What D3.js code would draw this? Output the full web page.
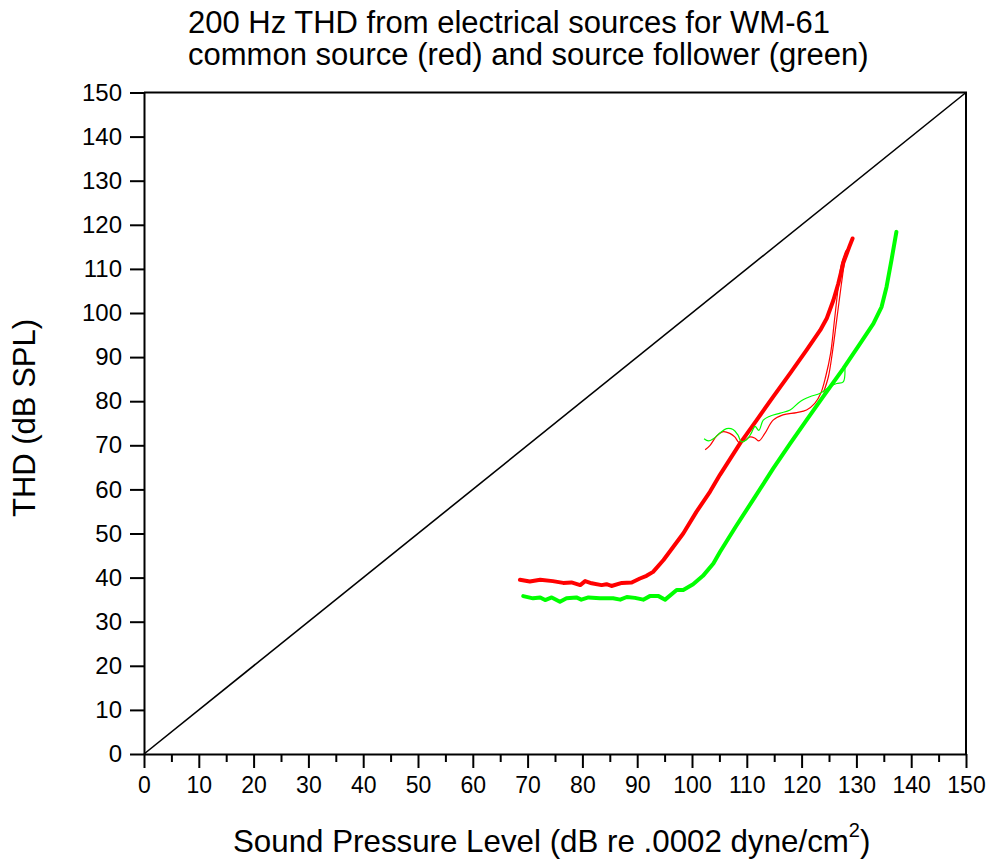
<!DOCTYPE html>
<html>
<head>
<meta charset="utf-8">
<script src="https://cdn.jsdelivr.net/npm/d3@7"></script>
<style>
  body { margin: 0; background: #fff; }
  svg text { font-family: "Liberation Sans", Arial, sans-serif; fill: #000; }
</style>
</head>
<body>
<div id="chart"></div>
<script>
// common source (red), thick
const redThickX = [68.6, 70.4, 72.3, 74.6, 76.5, 78.0, 79.6, 80.5, 81.7, 83.5, 84.4, 85.3, 87.2, 89.0, 90.5, 91.7, 92.9, 94.8, 96.6, 98.4, 100.8, 103.3, 105.1, 108.8, 111.8, 114.8, 117.9, 120.9, 123.4, 124.6, 125.8, 126.7, 127.6, 128.7, 129.3];
const redThickY = [39.5, 39.1, 39.5, 39.2, 38.8, 38.9, 38.3, 39.2, 38.7, 38.3, 38.5, 38.1, 38.8, 38.9, 39.8, 40.4, 41.3, 44.0, 47.0, 50.0, 54.9, 59.5, 63.3, 70.5, 75.7, 81.0, 86.3, 91.6, 96.1, 98.8, 102.9, 106.7, 111.3, 115.0, 116.9];

// source follower (green), thick
const greenThickX = [69.2, 71.0, 72.3, 73.2, 74.4, 75.9, 77.1, 78.9, 79.8, 81.1, 83.2, 85.6, 86.9, 88.1, 89.6, 91.1, 92.3, 93.9, 95.1, 97.2, 98.4, 100.2, 102.0, 103.9, 105.1, 108.0, 111.5, 114.8, 117.9, 120.9, 123.9, 127.6, 130.7, 133.1, 134.6, 135.5, 136.4, 137.3];
const greenThickY = [35.8, 35.3, 35.5, 34.9, 35.5, 34.5, 35.3, 35.5, 35.0, 35.5, 35.3, 35.3, 35.0, 35.6, 35.4, 35.0, 35.8, 35.8, 35.0, 37.2, 37.2, 38.5, 40.4, 43.2, 45.8, 51.6, 58.3, 64.7, 70.4, 75.7, 81.0, 87.4, 93.1, 97.6, 101.4, 105.9, 112.0, 118.4];

// common source (red), thin
const redThinX = [102.4, 103.3, 104.5, 105.7, 106.9, 107.8, 108.6, 109.3, 110.6, 111.5, 112.2, 113.3, 114.8, 116.6, 119.1, 120.9, 122.4, 123.5, 124.4, 125.3, 126.0, 126.7, 127.3, 128.2, 127.8, 127.2, 126.4, 125.6, 124.9, 124.0];
const redThinY = [69.0, 70.0, 72.1, 73.1, 72.7, 71.9, 70.6, 70.8, 71.9, 71.6, 71.0, 72.7, 75.7, 76.9, 77.4, 78.0, 79.5, 81.8, 85.6, 90.9, 98.4, 106.0, 111.3, 114.3, 111.3, 106.0, 98.4, 90.9, 85.6, 82.0];

// source follower (green), thin
const greenThinX = [102.2, 103.0, 103.9, 105.1, 106.3, 107.5, 108.4, 109.0, 109.9, 110.8, 111.5, 112.2, 113.0, 114.2, 116.1, 117.9, 119.7, 121.5, 123.4, 125.2, 126.4, 127.6, 127.9];
const greenThinY = [71.5, 71.0, 71.5, 72.8, 73.8, 73.6, 72.3, 70.8, 71.2, 72.7, 74.3, 73.4, 75.7, 76.6, 77.3, 78.0, 79.9, 81.0, 81.8, 83.3, 84.0, 84.4, 87.6];

// reference diagonal
const diagX = [0, 150];
const diagY = [0, 150];

const xTicks = [0, 10, 20, 30, 40, 50, 60, 70, 80, 90, 100, 110, 120, 130, 140, 150];
const xMinorTicks = [5, 15, 25, 35, 45, 55, 65, 75, 85, 95, 105, 115, 125, 135, 145];
const yTicks = [0, 10, 20, 30, 40, 50, 60, 70, 80, 90, 100, 110, 120, 130, 140, 150];

const titleLines = ["200 Hz THD from electrical sources for WM-61", "common source (red) and source follower (green)"];

const zip = (xs, ys) => xs.map((x, i) => ({ x: x, y: ys[i] }));

const W = 990, H = 860;
const svg = d3.select('#chart')
    .append('svg')
    .attr('width', W)
    .attr('height', H);

const xScale = d3.scaleLinear().domain([0, 150]).range([144, 966]);
const yScale = d3.scaleLinear().domain([0, 150]).range([754, 92.5]);

// title
svg.append('g').selectAll('text')
    .data(titleLines)
    .enter()
    .append('text')
    .attr('x', 188)
    .attr('y', (d, i) => 33 + i * 32)
    .style('font-size', '31px')
    .text(d => d);

// frame (top + right)
svg.append('path')
    .attr('d', `M${xScale(0)},${yScale(150)}H${xScale(150)}V${yScale(0)}`)
    .attr('fill', 'none')
    .attr('stroke', '#000')
    .attr('stroke-width', 2);

// axes
const xAxisGroup = svg.append('g')
    .attr('transform', `translate(0, ${yScale(0)})`)
    .call(d3.axisBottom(xScale).tickValues(xTicks).tickSize(14).tickSizeOuter(0).tickPadding(6).tickFormat(d3.format('d')));

svg.append('g')
    .attr('transform', `translate(0, ${yScale(0)})`)
    .call(d3.axisBottom(xScale).tickValues(xMinorTicks).tickSize(8).tickSizeOuter(0).tickFormat(''))
    .select('.domain').remove();

const yAxisGroup = svg.append('g')
    .attr('transform', `translate(${xScale(0)}, 0)`)
    .call(d3.axisLeft(yScale).tickValues(yTicks).tickSize(14).tickSizeOuter(0).tickPadding(8).tickFormat(d3.format('d')));

svg.selectAll('.domain').attr('stroke-width', 2);
svg.selectAll('.tick line').attr('stroke-width', 2);
svg.selectAll('.tick text').attr('font-family', null);
xAxisGroup.selectAll('.tick text').style('font-size', '23px').attr('dy', '0.83em');
yAxisGroup.selectAll('.tick text').style('font-size', '24px');

// axis labels
const xLabel = svg.append('text')
    .attr('x', 233)
    .attr('y', 852)
    .style('font-size', '31.3px');
xLabel.append('tspan').text('Sound Pressure Level (dB re .0002 dyne/cm');
xLabel.append('tspan').attr('dy', -15).style('font-size', '20px').text('2');
xLabel.append('tspan').attr('dy', 15).text(')');

svg.append('text')
    .attr('transform', `translate(35, 418) rotate(-90)`)
    .attr('text-anchor', 'middle')
    .style('font-size', '31px')
    .text('THD (dB SPL)');

const line = d3.line()
    .x(d => xScale(d.x))
    .y(d => yScale(d.y));

const plot = svg.append('g').attr('id', 'plot');

plot.append('path')
    .datum(zip(diagX, diagY))
    .attr('d', line)
    .attr('fill', 'none')
    .attr('stroke', '#000')
    .attr('stroke-width', 1.6);

plot.append('path')
    .datum(zip(redThickX, redThickY))
    .attr('d', line)
    .attr('fill', 'none')
    .attr('stroke', '#ff0000')
    .attr('stroke-width', 4)
    .attr('stroke-linejoin', 'round')
    .attr('stroke-linecap', 'round');

plot.append('path')
    .datum(zip(greenThickX, greenThickY))
    .attr('d', line)
    .attr('fill', 'none')
    .attr('stroke', '#00ff00')
    .attr('stroke-width', 4)
    .attr('stroke-linejoin', 'round')
    .attr('stroke-linecap', 'round');

plot.append('path')
    .datum(zip(redThinX, redThinY))
    .attr('d', line.curve(d3.curveCatmullRom))
    .attr('fill', 'none')
    .attr('stroke', '#ff0000')
    .attr('stroke-width', 1.2);

plot.append('path')
    .datum(zip(greenThinX, greenThinY))
    .attr('d', line)
    .attr('fill', 'none')
    .attr('stroke', '#00ff00')
    .attr('stroke-width', 1.2);
</script>
</body>
</html>
